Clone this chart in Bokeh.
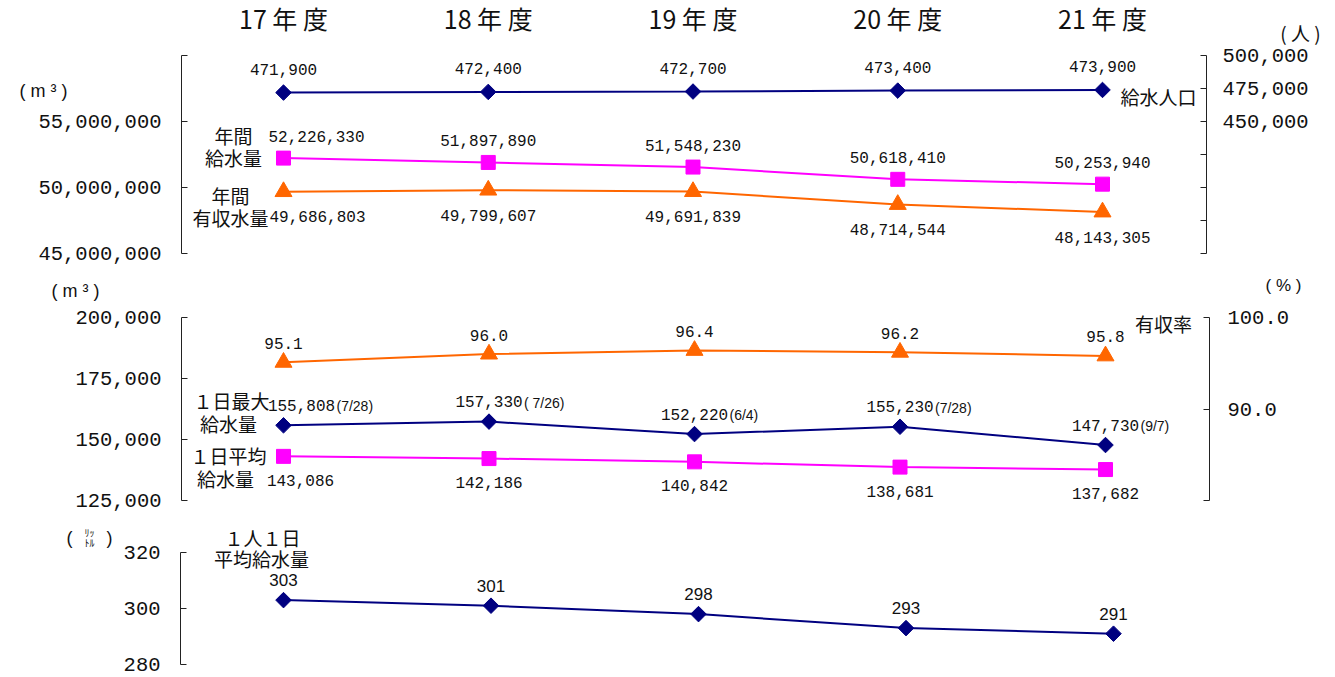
import math
from bokeh.plotting import figure
from bokeh.models import (Range1d, LinearAxis, FixedTicker,
                          NumeralTickFormatter, ColumnDataSource, Label)
from bokeh.layouts import column
from bokeh.core.properties import value
from bokeh.embed import file_html
from bokeh.resources import INLINE

# ---------------- data ----------------
years = ["17 年 度", "18 年 度", "19 年 度", "20 年 度", "21 年 度"]
population = [471900, 472400, 472700, 473400, 473900]               # 給水人口 (人)
annual_supply = [52226330, 51897890, 51548230, 50618410, 50253940]   # 年間給水量 (m3)
annual_revenue = [49686803, 49799607, 49691839, 48714544, 48143305]  # 年間有収水量 (m3)
revenue_rate = [95.1, 96.0, 96.4, 96.2, 95.8]                       # 有収率 (%)
daily_max = [155808, 157330, 152220, 155230, 147730]                # 1日最大給水量 (m3)
daily_max_dates = ["(7/28)", "( 7/26)", "(6/4)", "(7/28)", "(9/7)"]
daily_avg = [143086, 142186, 140842, 138681, 137682]                # 1日平均給水量 (m3)
per_capita = [303, 301, 298, 293, 291]                              # 1人1日平均給水量 (L)

# ---------------- style ----------------
NAVY = "#000080"
MAGENTA = "#FF00FF"
ORANGE = "#FF6600"
MONO = "Liberation Mono"
SANS = "Liberation Sans"
CJK = "Noto Sans CJK JP"
FIGW = 1335
N = len(years)
XI = list(range(N))   # category positions


def lin(pa, va, pb, vb, p):
    return va + (p - pa) * (vb - va) / (pb - pa)


class Panel:
    """A figure whose frame fills the canvas; calibrated by page pixels."""

    def __init__(self, top, h, x_first, x_last, yref):
        self.top, self.h = top, h
        self.xf, self.xl = x_first, x_last
        self.yref = yref
        x0 = lin(x_first, 0, x_last, N - 1, 0)
        x1 = lin(x_first, 0, x_last, N - 1, FIGW)
        self.p = figure(width=FIGW, height=h, x_range=Range1d(x0, x1),
                        y_range=self.yrange(yref), output_backend="svg",
                        toolbar_location=None, x_axis_location=None,
                        y_axis_location=None, min_border=0)
        self.p.outline_line_color = None
        self.p.grid.grid_line_color = None
        self.p.grid.visible = False
        self.p.background_fill_color = "white"
        self.p.border_fill_color = "white"

    def yrange(self, ref):
        (pa, va), (pb, vb) = ref
        return Range1d(lin(pa, va, pb, vb, self.top + self.h),
                       lin(pa, va, pb, vb, self.top))

    def xd(self, px):
        return lin(self.xf, 0, self.xl, N - 1, px)

    def yd(self, py, ref=None):
        (pa, va), (pb, vb) = ref or self.yref
        return lin(pa, va, pb, vb, py)

    def axis(self, side, px, ticks, bounds, fmt, overrides=None,
             rname="default", standoff=20):
        ax = LinearAxis(y_range_name=rname, ticker=FixedTicker(ticks=ticks),
                        formatter=fmt, bounds=bounds,
                        fixed_location=self.xd(px))
        ax.major_tick_in = 6
        ax.major_tick_out = 0
        ax.minor_tick_line_color = None
        ax.axis_line_color = "#222222"
        ax.major_tick_line_color = "#222222"
        ax.major_label_text_font = MONO
        ax.major_label_text_font_size = "20.5px"
        ax.major_label_text_color = "#111111"
        ax.major_label_standoff = standoff
        if overrides:
            ax.major_label_overrides = overrides
        self.p.add_layout(ax, side)

    def note(self, text, px, py, size="19px", align="center", font=CJK):
        self.p.add_layout(Label(x=self.xd(px), y=self.yd(py), text=text,
                                text_align=align, text_baseline="middle",
                                text_font=font, text_font_size=size,
                                text_color="#111111"))

    def series(self, ys, color, marker, size, rname="default", angle=0.0):
        self.p.line(x=XI, y=ys, color=color, line_width=2, y_range_name=rname)
        self.p.scatter(x=XI, y=ys, marker=marker, size=size, angle=angle,
                       fill_color=color, line_color=color, y_range_name=rname)

    def labels(self, ys, texts, dy, dx=None, rname="default", font=MONO,
               size="16px", align="center"):
        src = ColumnDataSource(dict(x=XI, y=ys, t=texts,
                                    dx=dx if dx is not None else [0] * N))
        self.p.text(x="x", y="y", text="t", source=src, x_offset="dx",
                    y_offset=dy, text_align=align, text_baseline="middle",
                    text_font=value(font), text_font_size=value(size),
                    text_color="#111111", y_range_name=rname)


DIAMOND = math.pi / 4

# ---------------- panel 1 ----------------
P1 = Panel(0, 270, 283, 1102, ((55, 60000000), (253, 45000000)))
pop_ref = ((55, 500000), (253, 350000))
P1.p.extra_y_ranges = {"pop": P1.yrange(pop_ref)}

# year labels on top
top_ax = LinearAxis(ticker=FixedTicker(ticks=XI),
                    major_label_overrides={i: years[i] for i in XI},
                    fixed_location=P1.yd(55))
top_ax.axis_line_color = None
top_ax.major_tick_line_color = None
top_ax.minor_tick_line_color = None
top_ax.major_label_text_font = CJK
top_ax.major_label_text_font_size = "25px"
top_ax.major_label_text_color = "#111111"
top_ax.major_label_standoff = 14
P1.p.add_layout(top_ax, "above")

P1.axis("left", 181, [45000000, 50000000, 55000000, 60000000],
        (45000000, 60000000), NumeralTickFormatter(format="0,0"),
        overrides={60000000: ""})
P1.axis("right", 1206, [350000, 375000, 400000, 425000, 450000, 475000, 500000],
        (350000, 500000), NumeralTickFormatter(format="0,0"),
        overrides={350000: "", 375000: "", 400000: "", 425000: ""},
        rname="pop", standoff=16)

P1.series(population, NAVY, "square", 11, rname="pop", angle=DIAMOND)
P1.series(annual_supply, MAGENTA, "square", 14)
P1.series(annual_revenue, ORANGE, "triangle", 17)

P1.labels(population, [f"{v:,}" for v in population], -23, rname="pop")
P1.labels(annual_supply, [f"{v:,}" for v in annual_supply], -22, dx=[33, 0, 0, 0, 0])
P1.labels(annual_revenue, [f"{v:,}" for v in annual_revenue], 25, dx=[34, 0, 0, 0, 0])

P1.note("年間", 233, 135)
P1.note("給水量", 233, 157)
P1.note("年間", 230, 195)
P1.note("有収水量", 230, 217)
P1.note("給水人口", 1120, 96, align="left")
P1.note("( m ³ )", 43, 90, size="18px", font=SANS)
P1.note("( 人 )", 1300, 32, size="19px")

# ---------------- panel 2 ----------------
P2 = Panel(270, 245, 283, 1105, ((317, 200000), (500, 125000)))
rate_ref = ((317, 100.0), (500, 80.0))
P2.p.extra_y_ranges = {"rate": P2.yrange(rate_ref)}

P2.axis("left", 181, [125000, 150000, 175000, 200000], (125000, 200000),
        NumeralTickFormatter(format="0,0"))
P2.axis("right", 1209, [80, 90, 100], (80, 100),
        NumeralTickFormatter(format="0.0"), overrides={80: ""},
        rname="rate", standoff=18)

P2.series(revenue_rate, ORANGE, "triangle", 17, rname="rate")
P2.series(daily_max, NAVY, "square", 11, angle=DIAMOND)
P2.series(daily_avg, MAGENTA, "square", 14)

P2.labels(revenue_rate, [f"{v:.1f}" for v in revenue_rate], -19, rname="rate")
max_dx = [18, 0, 0, 0, 0]
P2.labels(daily_max, [f"{v:,}" for v in daily_max], -20, dx=max_dx)
P2.labels(daily_max, daily_max_dates, -19, dx=[d + 35 for d in max_dx],
          font=SANS, size="14px", align="left")
P2.labels(daily_avg, [f"{v:,}" for v in daily_avg], 24, dx=[17, 0, 0, 0, 0])

P2.note("１日最大", 231, 400)
P2.note("給水量", 228, 423)
P2.note("１日平均", 228, 455)
P2.note("給水量", 225, 478)
P2.note("有収率", 1163, 323)
P2.note("( m ³ )", 75, 290, size="18px", font=SANS)
P2.note("( % )", 1283, 285, size="17px", font=SANS)

# ---------------- panel 3 ----------------
P3 = Panel(515, 162, 283, 1113, ((552, 320), (664, 280)))
P3.axis("left", 180, [280, 300, 320], (280, 320), NumeralTickFormatter(format="0"))

P3.series(per_capita, NAVY, "square", 11, angle=DIAMOND)
P3.labels(per_capita, [str(v) for v in per_capita], -20, font=SANS, size="17px")

P3.note("１人１日", 262, 537)
P3.note("平均給水量", 261, 558)
P3.note("(", 69, 537, size="18px", font=SANS)
P3.note("ﾘｯ", 89, 532, size="10px")
P3.note("ﾄﾙ", 89, 542, size="10px")
P3.note(")", 109, 537, size="18px", font=SANS)

layout = column(P1.p, P2.p, P3.p, spacing=0)
open("out.html", "w").write(file_html(layout, INLINE))
